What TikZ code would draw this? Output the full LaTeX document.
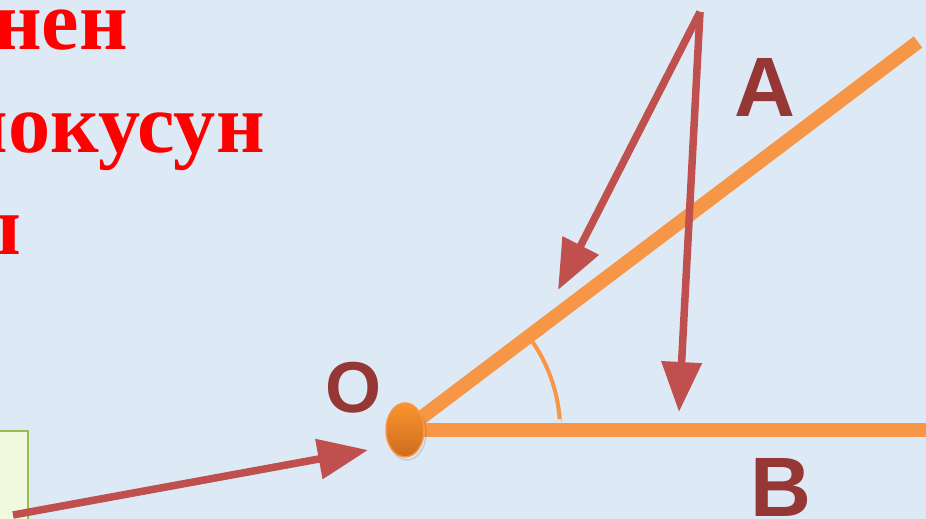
\documentclass[tikz,border=0pt]{standalone}
\usepackage{fontspec}
\setmainfont{Liberation Serif}
\setsansfont{Liberation Sans}
\usetikzlibrary{arrows.meta,shapes.geometric}

\definecolor{bgblue}  {RGB}{221,234,246}
\definecolor{rayC}    {RGB}{247,150,70}
\definecolor{vecC}    {RGB}{192,80,77}
\definecolor{lblC}    {RGB}{149,55,53}
\definecolor{boxedge} {RGB}{155,187,89}
\definecolor{boxfill} {RGB}{241,250,222}
\definecolor{dottop}  {RGB}{250,148,45}
\definecolor{dotbot}  {RGB}{206,108,32}

\tikzset{
  shade/.style={preaction={draw=black!70, opacity=0.18,
      transform canvas={shift={(0.04cm,-0.06cm)}}}},
  ray/.style={line width=0.28cm, rayC, shade},
  vec/.style={line width=0.15cm, vecC, shade,
      -{Triangle[length=1cm,width=0.78cm]}},
  title/.style={font=\fontsize{48}{58}\selectfont\bfseries, text=red,
      inner sep=0pt, anchor=base east},
  lbl/.style={font=\sffamily\bfseries, text=lblC, inner sep=0pt},
  dot/.style={ellipse, minimum width=0.76cm, minimum height=1.08cm,
      inner sep=0pt, top color=dottop, bottom color=dotbot,
      draw=rayC, line width=0.03cm},
}

\begin{document}
\begin{tikzpicture}[x=0.02cm, y=-0.02cm]
    \useasboundingbox (0,0) rectangle (926,519);
    \clip (0,0) rectangle (926,519);
    \fill[bgblue] (0,0) rectangle (926,519);
    %--- Tekst ---
    \node[title] (t1) at (128,50) {нен};
    \node[title] (t2) at (265,153) {чокусун};
    \node[title] (t3) at (22,255) {ы};
    %--- Boks ---
    \draw[boxedge, fill=boxfill, line width=0.03cm] (-10,431) rectangle (28,540);
    %--- Punkter ---
    \coordinate (O) at (405,430);
    \coordinate (A) at (918,42);
    \coordinate (B) at (940,430);
    \coordinate (S) at (700,12);
    \coordinate (P) at (13,515);
    %--- Vinkel og stråler ---
    \draw[rayC, line width=0.08cm, shade] (O) ++(-36:155) arc[start angle=-36, end angle=-4, radius=155];
    \draw[ray] (O) -- (A);
    \draw[ray] (O) -- (B);
    \node[dot, shade] (Odot) at (O) {};
    %--- Vektorer ---
    \draw[vec] (P) -- (368,450);
    \draw[vec] (S) -- (558,290);
    \draw[vec] (S) -- (679,412);
    %--- Bokstaver ---
    \node[lbl, font=\fontsize{41}{41}\selectfont\sffamily\bfseries] (lO) at (354,388) {O};
    \node[lbl, font=\fontsize{48}{48}\selectfont\sffamily\bfseries] (lA) at (765,87) {A};
    \node[lbl, font=\fontsize{48}{48}\selectfont\sffamily\bfseries] (lB) at (781,487) {B};
\end{tikzpicture}
\end{document}
